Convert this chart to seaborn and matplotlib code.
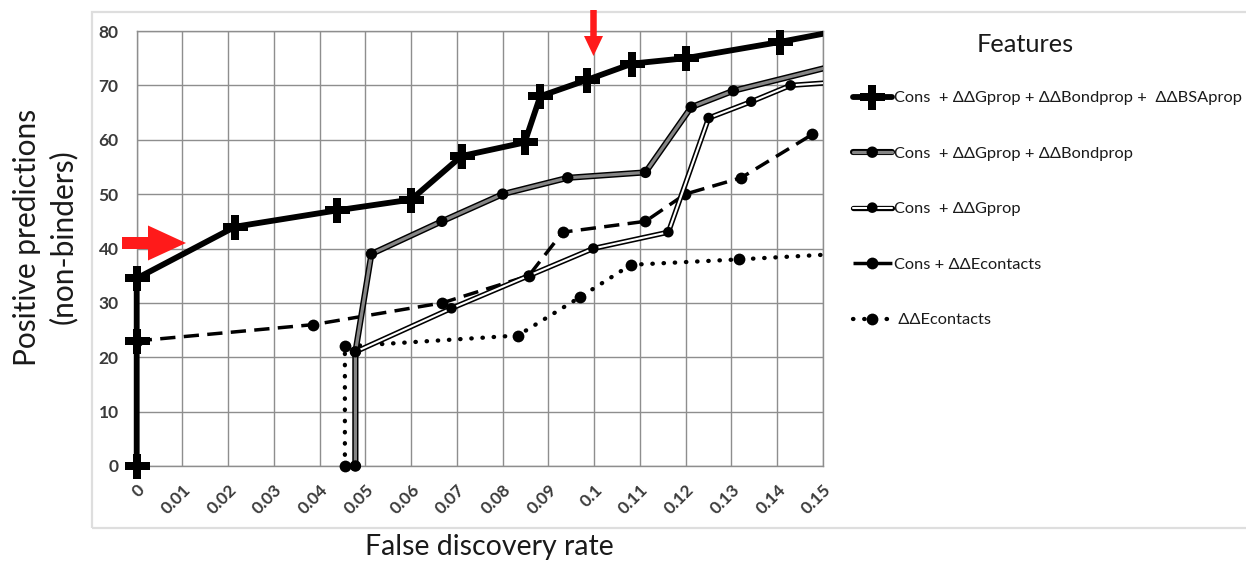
import numpy as np
import pandas as pd
import matplotlib
matplotlib.use('Agg')
import matplotlib.pyplot as plt
import matplotlib.patheffects as pe
from matplotlib.lines import Line2D
from matplotlib.patches import Rectangle
import seaborn as sns

# ---------------- data ----------------
fdr_all4 = [0, 0, 0, 0.0215, 0.0437, 0.0600, 0.0710, 0.0848, 0.0882, 0.0984, 0.1083, 0.1200, 0.1407, 0.1600]
pos_all4 = [0, 23, 34.5, 44, 47, 49, 57, 59.5, 68, 71, 74, 75, 78, 81.1]

fdr_gbond = [0.0478, 0.0478, 0.0513, 0.0667, 0.0800, 0.0942, 0.1112, 0.1212, 0.1304, 0.1600]
pos_gbond = [0, 21, 39, 45, 50, 53, 54, 66, 69, 75.2]

fdr_g = [0.0478, 0.0478, 0.0688, 0.0857, 0.0998, 0.1162, 0.1250, 0.1343, 0.1429, 0.1600]
pos_g = [0, 21, 29, 35, 40, 43, 64, 67, 70, 71]

fdr_cons_e = [0, 0.0386, 0.0668, 0.0857, 0.0931, 0.1112, 0.1199, 0.1321, 0.1477]
pos_cons_e = [23, 26, 30, 35, 43, 45, 50, 53, 61]

fdr_e = [0.0455, 0.0455, 0.0833, 0.0968, 0.1080, 0.1317, 0.1600]
pos_e = [0, 22, 24, 31, 37, 38, 39.3]

series_labels = [
    'Cons  + ΔΔGprop + ΔΔBondprop +  ΔΔBSAprop',
    'Cons  + ΔΔGprop + ΔΔBondprop',
    'Cons  + ΔΔGprop',
    'Cons + ΔΔEcontacts',
    ' ΔΔEcontacts',
]
x_ticks = [0, 0.01, 0.02, 0.03, 0.04, 0.05, 0.06, 0.07, 0.08, 0.09, 0.10, 0.11, 0.12, 0.13, 0.14, 0.15]
x_tick_labels = ['0', '0.01', '0.02', '0.03', '0.04', '0.05', '0.06', '0.07', '0.08', '0.09',
                 '0.1', '0.11', '0.12', '0.13', '0.14', '0.15']
y_ticks = [0, 10, 20, 30, 40, 50, 60, 70, 80]

# ---------------- style ----------------
sns.set_style('white')
plt.rcParams['font.family'] = ['Lato', 'DejaVu Sans']

W, H = 1246, 567
fig = plt.figure(figsize=(W / 100, H / 100), dpi=100)
ax = fig.add_axes([136.7 / W, 1 - 466 / H, (823 - 136.7) / W, (466 - 31) / H])

grid_c = '#8e8e8e'

# styles
st_e = dict(color='black', lw=3.1, linestyle=(0, (0.1, 2.5)), dash_capstyle='round',
            marker='o', markersize=8.5, markeredgewidth=0)
st_cons_e = dict(color='black', lw=2.5, linestyle=(0, (4.4, 2.4)),
                 marker='o', markersize=8.5, markeredgewidth=0)
st_g = dict(color='white', lw=1.5, marker='o', markersize=3.8, markerfacecolor='black',
            markeredgecolor='black', markeredgewidth=0,
            path_effects=[pe.Stroke(linewidth=3.8, foreground='black'), pe.Normal()])
st_gbond = dict(color='#858585', lw=2.3, marker='o', markersize=3.8, markerfacecolor='black',
                markeredgecolor='black', markeredgewidth=0,
                path_effects=[pe.Stroke(linewidth=4.4, foreground='black'), pe.Normal()])
st_all4 = dict(color='black', lw=4.2, marker='P', markersize=18, markeredgewidth=0)

sns.lineplot(x=fdr_e, y=pos_e, ax=ax, sort=False, estimator=None, zorder=3, **st_e)
sns.lineplot(x=fdr_cons_e, y=pos_cons_e, ax=ax, sort=False, estimator=None, zorder=4, **st_cons_e)
sns.lineplot(x=fdr_g, y=pos_g, ax=ax, sort=False, estimator=None, zorder=5, **st_g)
sns.lineplot(x=fdr_gbond, y=pos_gbond, ax=ax, sort=False, estimator=None, zorder=6, **st_gbond)
sns.lineplot(x=fdr_all4, y=pos_all4, ax=ax, sort=False, estimator=None, zorder=7, **st_all4)

# clip only at the right edge (markers on the other borders stay whole)
for ln in ax.lines:
    ln.set_clip_path(Rectangle((-0.06, -0.06), 1.06, 1.12, transform=ax.transAxes))

ax.set_xlim(0, 0.15)
ax.set_ylim(0, 80)
ax.set_xticks(x_ticks)
ax.set_yticks(y_ticks)
ax.grid(True, color=grid_c, lw=1.0, zorder=0)
ax.set_axisbelow(True)
for s in ax.spines.values():
    s.set_color(grid_c)
    s.set_linewidth(1.0)
ax.set_xticklabels(x_tick_labels, rotation=45, ha='right', rotation_mode='anchor',
                   fontweight='bold', fontsize=12.5, color='#3a3a3a')
ax.set_yticklabels([str(v) for v in y_ticks], fontweight='bold', fontsize=12.5, color='#3a3a3a')
ax.tick_params(axis='x', length=0, pad=11)
ax.tick_params(axis='y', length=0, pad=13)
ax.set_xlabel('')
ax.set_ylabel('')

# outer light frame
fig.patches.append(Rectangle((92 / W, 1 - 528 / H), (1260 - 92) / W, (528 - 12) / H,
                             transform=fig.transFigure, fill=False, edgecolor='#dedede',
                             lw=1.6, zorder=0))

# axis titles
fig.text(45 / W, 1 - 237 / H, 'Positive predictions\n(non-binders)', rotation=90,
         ha='center', va='center', multialignment='center', fontsize=21.5, linespacing=1.28,
         color='#1a1a1a')
fig.text(489 / W, 1 - 547 / H, 'False discovery rate', ha='center', va='center',
         fontsize=20.5, color='#1a1a1a')

# legend
handles = [
    Line2D([], [], **st_all4),
    Line2D([], [], **st_gbond),
    Line2D([], [], **st_g),
    Line2D([], [], **st_cons_e),
    Line2D([], [], **st_e),
]
fig.text(1025 / W, 1 - 45 / H, 'Features', ha='center', va='center', fontsize=18.3, color='#1a1a1a')
leg = fig.legend(handles, series_labels, loc='upper left', bbox_to_anchor=(853 / W, 1 - 91 / H),
                 frameon=False, fontsize=11.8, handlelength=2.35, handletextpad=0.15,
                 labelspacing=2.5, borderpad=0, borderaxespad=0, numpoints=1)
for t in leg.get_texts():
    t.set_color('#1a1a1a')

# red arrows
fig.add_artist(matplotlib.patches.FancyArrow(
    122, H - 243, 26, 0, width=12, head_width=35, head_length=38,
    length_includes_head=False, color='#ff1a1a', transform=None, lw=0))
fig.add_artist(matplotlib.patches.FancyArrow(
    593.5, H - 10, 0, -26, width=6.5, head_width=19, head_length=20,
    length_includes_head=False, color='#ff1a1a', transform=None, lw=0))

fig.savefig('out.png', dpi=100)
